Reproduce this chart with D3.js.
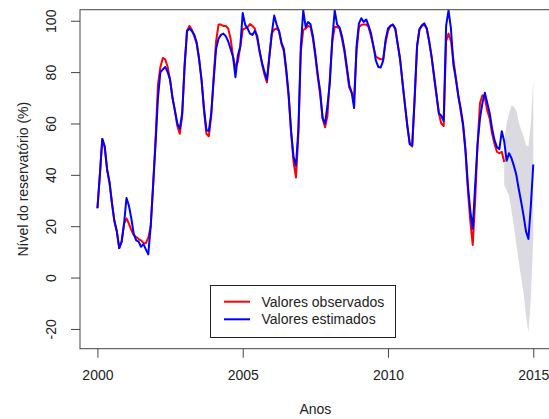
<!DOCTYPE html>
<html>
<head>
<meta charset="utf-8">
<script src="https://cdn.jsdelivr.net/npm/d3@7"></script>
<style>
    html, body { margin: 0; padding: 0; background: #fff; }
    svg text { font-family: "Liberation Sans", Arial, sans-serif; fill: #222; }
</style>
</head>
<body>
<div id="chart"></div>
<script>
// --- Data (monthly, first value = Jan 2000) ---
const startYear = 2000;

const observed = [
    27, 40, 54, 51, 42, 37, 29, 22, 18, 11.5, 14, 21,
    23, 21, 18.5, 16.5, 15.8, 15, 14.5, 13.5, 13.4, 15.5, 20, 36,
    54, 75, 82, 85.5, 85, 82, 77, 70, 65, 59, 56, 63,
    83, 96, 98, 96.5, 94, 91, 85, 77, 65, 56, 55, 63,
    78, 92, 98.5, 98.5, 98, 98, 97, 93, 86, 82, 84, 90,
    96.5, 97, 97.5, 98.7, 98, 97, 93, 88, 83, 79, 76, 86,
    95, 96.5, 97, 96, 91, 88, 80, 70, 56, 45, 39, 56,
    88, 96.4, 97, 98, 97.5, 93, 86, 78, 71, 62, 58.5, 63,
    78, 92, 97.6, 97.6, 97, 93, 88, 81, 74, 72, 70, 88,
    97.5, 98.4, 98.5, 98.5, 97.5, 94, 90, 86, 85.4, 85, 85, 91.5,
    96, 98, 98.5, 97, 91, 85, 76, 67, 59, 52, 51, 69,
    90, 96.5, 98, 98.5, 97, 92, 86, 78, 71, 64, 60, 59,
    92, 95, 92, 85, 78, 71, 65, 59, 49, 34, 22, 12.7,
    30, 52, 68, 71, 70, 65, 62, 56, 52, 49, 48.4, 49,
    45
];

const estimated = [
    27, 40, 54, 51, 42, 37, 29, 22, 18, 11.5, 14, 21,
    31, 28, 23, 17, 14.5, 14, 12, 13, 11, 9, 20, 36,
    52, 70, 80, 81, 82, 80, 77, 70, 65, 60, 58, 64,
    82, 96, 97, 96, 94.5, 91.5, 85, 77, 66, 57.5, 57, 64,
    77, 89, 93, 94.5, 95, 94, 92, 89, 86, 78, 86.5, 90,
    103, 98.5, 97, 95, 94.5, 96, 94, 88, 83.5, 80, 77, 86,
    95, 102, 98.5, 96, 91.5, 89, 81, 71, 57, 47, 43.5, 58,
    90, 104, 97.6, 99.5, 98.6, 94, 87, 79, 72.5, 62, 60, 67,
    76, 93, 104, 98.5, 97.4, 94, 89, 82, 75, 72, 66, 90,
    99, 101, 99.5, 100.5, 98, 95, 90, 84.5, 82, 81.8, 84.5, 92.5,
    97, 98, 98.5, 97, 91, 85, 76, 67.5, 59, 52, 51.5, 70,
    90, 96.8, 98.2, 99, 97, 92, 86, 79, 71.5, 64, 63, 61,
    98, 104, 97, 83, 77.5, 71, 66, 60, 50, 36, 26, 19,
    36, 52, 62, 68, 72, 68, 64, 58, 53.5, 50.8, 50, 57,
    53, 45.5, 48.4, 46.5, 43.5, 40, 34.5, 29.5, 24, 18, 15, 28,
    44
];

// forecast interval, monthly from Jan 2014
const bandStart = 2014;
const bandLower = [36, 34, 32, 26, 20, 13, 6, 0, -6, -15, -21.5, -8, 15];
const bandUpper = [53, 60, 64, 67, 66.5, 65, 60.5, 57.5, 55, 51.5, 51, 60, 77];

const xTicks = [2000, 2005, 2010, 2015];
const yTicks = [-20, 0, 20, 40, 60, 80, 100];

const legendLabels = ['Valores observados', 'Valores estimados'];
const colors = { observed: '#ff0000', estimated: '#0000ff', band: '#dadae0' };

// --- Layout ---
const width = 549, height = 419;
const plot = { left: 80, top: 9.7, right: 550.7, bottom: 348.7 };

const svg = d3.select('#chart')
    .append('svg')
    .attr('width', width)
    .attr('height', height);

const x = d3.scaleLinear().domain([1999.4, 2015.6]).range([plot.left, plot.right]);
const y = d3.scaleLinear().domain([-27.7, 104.3]).range([plot.bottom, plot.top]);

svg.append('clipPath').attr('id', 'clip')
    .append('rect')
    .attr('x', plot.left).attr('y', plot.top)
    .attr('width', plot.right - plot.left).attr('height', plot.bottom - plot.top);

const g = svg.append('g').attr('clip-path', 'url(#clip)');

// Band
const bandData = bandLower.map((lo, i) => ({ t: bandStart + i / 12, lo, hi: bandUpper[i] }));
g.append('path')
    .datum(bandData)
    .attr('fill', colors.band)
    .attr('d', d3.area().x(d => x(d.t)).y0(d => y(d.lo)).y1(d => y(d.hi)));

// Lines
const line = d3.line().x((d, i) => x(startYear + i / 12)).y(d => y(d));

g.append('path')
    .datum(observed)
    .attr('fill', 'none')
    .attr('stroke', colors.observed)
    .attr('stroke-width', 2)
    .attr('stroke-linejoin', 'round')
    .attr('d', line);

g.append('path')
    .datum(estimated)
    .attr('fill', 'none')
    .attr('stroke', colors.estimated)
    .attr('stroke-width', 2)
    .attr('stroke-linejoin', 'round')
    .attr('d', line);

// Box
svg.append('rect')
    .attr('x', plot.left).attr('y', plot.top)
    .attr('width', plot.right - plot.left).attr('height', plot.bottom - plot.top)
    .attr('fill', 'none')
    .attr('stroke', '#444')
    .attr('stroke-width', 1);

// Axes
const xAxis = svg.append('g')
    .attr('transform', `translate(0,${plot.bottom})`)
    .call(d3.axisBottom(x).tickValues(xTicks).tickSize(9).tickPadding(12).tickFormat(d => String(d)));
xAxis.select('.domain').remove();
xAxis.selectAll('line').attr('stroke', '#444');
xAxis.selectAll('text').style('font-size', '14px').attr('fill', '#222');

const yAxis = svg.append('g')
    .attr('transform', `translate(${plot.left},0)`)
    .call(d3.axisLeft(y).tickValues(yTicks).tickSize(9).tickFormat(d => String(d)));
yAxis.select('.domain').remove();
yAxis.selectAll('line').attr('stroke', '#444');
yAxis.selectAll('text')
    .style('font-size', '14px')
    .attr('fill', '#222')
    .attr('transform', 'rotate(-90)')
    .attr('text-anchor', 'middle')
    .attr('x', 0)
    .attr('y', -24)
    .attr('dy', 0);

// Axis titles
svg.append('text')
    .attr('x', (plot.left + plot.right) / 2)
    .attr('y', 414)
    .attr('text-anchor', 'middle')
    .style('font-size', '14px')
    .text('Anos');

svg.append('text')
    .attr('transform', `translate(28,${(plot.top + plot.bottom) / 2}) rotate(-90)`)
    .attr('text-anchor', 'middle')
    .style('font-size', '14px')
    .text('Nível do reservatório (%)');

// Legend
const legend = svg.append('g');
legend.append('rect')
    .attr('x', 210.5).attr('y', 285.5)
    .attr('width', 185).attr('height', 52)
    .attr('fill', '#fff')
    .attr('stroke', '#222');

[colors.observed, colors.estimated].forEach((c, i) => {
    const ly = 301.7 + i * 17.6;
    legend.append('line')
        .attr('x1', 224).attr('x2', 250)
        .attr('y1', ly).attr('y2', ly)
        .attr('stroke', c).attr('stroke-width', 2);
    legend.append('text')
        .attr('x', 261.5).attr('y', ly)
        .attr('dy', '0.36em')
        .style('font-size', '14px')
        .text(legendLabels[i]);
});
</script>
</body>
</html>
